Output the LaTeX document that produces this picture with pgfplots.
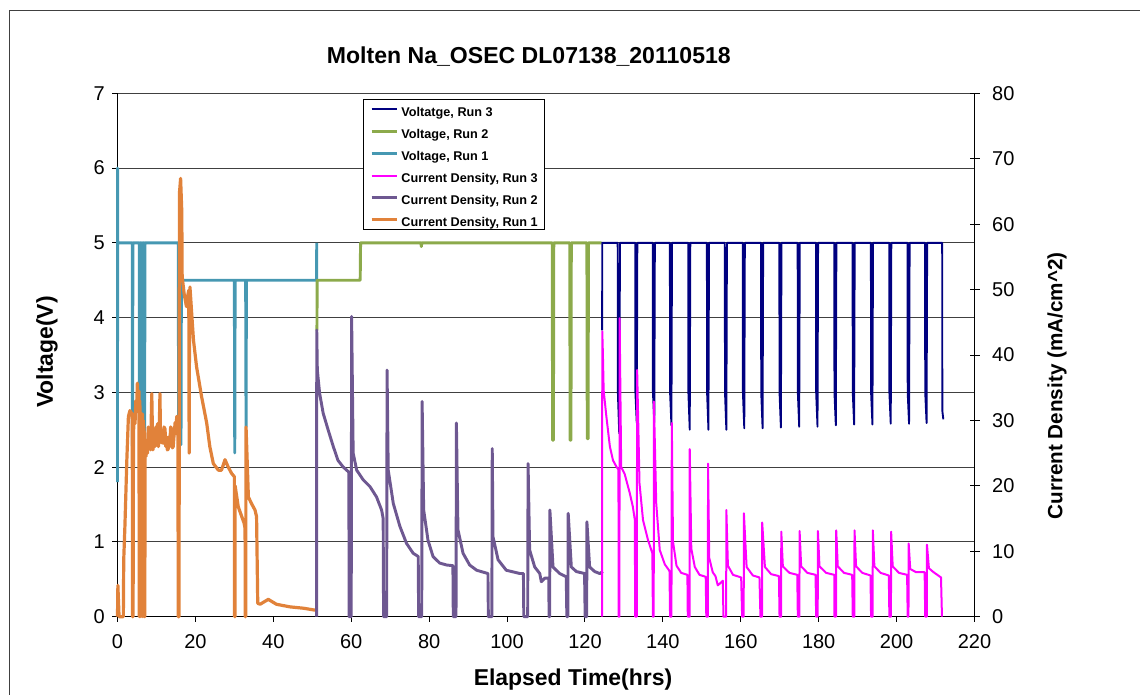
\documentclass[border=0pt]{standalone}
\usepackage{pgfplots}
\pgfplotsset{compat=1.18}
\usepackage{fontspec}
\setmainfont{Liberation Sans}
\definecolor{vthree}{RGB}{0,0,128}
\definecolor{vtwo}{RGB}{140,170,75}
\definecolor{vone}{RGB}{70,152,178}
\definecolor{cthree}{RGB}{255,0,255}
\definecolor{ctwo}{RGB}{110,88,145}
\definecolor{cone}{RGB}{225,130,58}
\begin{document}
\begin{tikzpicture}
\useasboundingbox (-88.125pt,-57.975pt) rectangle (766.875pt,462.525pt);
\draw[black!75, line width=0.75pt] (-81.15pt,-80pt) rectangle (790pt,454.5pt);
\begin{axis}[
  at={(0pt,0pt)}, anchor=south west,
  scale only axis, width=642.75pt, height=392.55pt,
  xmin=0, xmax=220, ymin=0, ymax=7,
  clip=false,
  axis x line*=bottom, axis y line*=left,
  xtick={0,20,...,220}, ytick={0,1,...,7},
  ymajorgrids, grid style={black!75, line width=0.75pt},
  axis line style={black, line width=0.75pt},
  tick style={black, line width=0.75pt},
  major tick length=3.75pt, tick align=outside,
  /pgf/number format/assume math mode=true,
  ticklabel style={font=\fontsize{15}{18}\selectfont},
  xticklabel style={yshift=-6pt},
  yticklabel style={xshift=-2.25pt},
  xlabel={Elapsed Time(hrs)}, ylabel={Voltage(V)},
  xlabel style={at={(axis description cs:0.5315,-0.121)}, anchor=center, font=\bfseries\fontsize{17.2}{20}\selectfont},
  ylabel style={at={(axis description cs:-0.0823,0.5057)}, anchor=center, rotate=0, font=\bfseries\fontsize{17.2}{20}\selectfont},
  title={Molten Na\_OSEC DL07138\_20110518},
  title style={at={(axis description cs:0.480,1.054)}, anchor=center, font=\bfseries\fontsize{17.3}{20}\selectfont},
]
% Voltage, Run 1
\addplot[vone, line width=2.2pt, line join=round] coordinates {
(0,1.8)(0.02,6.0)(0.06,5.0)(3.8,5.0)(3.85,1.8)(3.95,5.0)
(5.6,5.0)(5.65,2.1)(5.75,5.0)(6.0,5.0)(6.05,2.1)(6.15,5.0)
(6.45,5.0)(6.5,2.1)(6.6,5.0)(6.9,5.0)(6.95,2.1)(7.05,5.0)
(15.6,5.0)(15.7,2.3)(16.3,2.3)(16.4,4.5)
(30.0,4.5)(30.1,2.19)(30.2,4.5)(32.9,4.5)(33.0,2.54)(33.1,4.5)
(51.1,4.5)(51.15,5.0)
};
% Voltage, Run 2
\addplot[vtwo, line width=2.2pt, line join=round] coordinates {
(51.2,3.83)(51.25,4.5)(62.3,4.5)(62.4,5.0)(77.9,5.0)(78.0,4.95)(78.1,5.0)
(111.6,5.0)(111.7,2.36)(111.9,2.36)(112.0,5.0)
(116.1,5.0)(116.2,2.36)(116.4,2.36)(116.5,5.0)
(120.5,5.0)(120.6,2.38)(120.8,2.38)(120.9,5.0)(124.3,5.0)
};
% Voltatge, Run 3
\addplot[vthree, line width=1.4pt, line join=round] coordinates {
(124.4,3.83)(124.45,5)
(128.4,5)(128.45,3.0)(128.8,2.45)(129.0,5)
(132.9,5)(132.95,3.0)(133.3,2.59)(133.45,5)
(137.4,5)(137.45,3.0)(137.8,2.60)(137.95,5)
(141.8,5)(141.85,3.0)(142.2,2.56)(142.35,5)
(146.5,5)(146.55,3.0)(146.9,2.50)(147.05,5)
(151.3,5)(151.35,3.0)(151.7,2.50)(151.85,5)
(155.9,5)(155.95,3.0)(156.3,2.50)(156.45,5)
(160.5,5)(160.55,3.0)(160.9,2.52)(161.05,5)
(165.2,5)(165.25,3.0)(165.6,2.52)(165.75,5)
(169.9,5)(169.95,3.0)(170.3,2.53)(170.45,5)
(174.6,5)(174.65,3.0)(175.0,2.54)(175.15,5)
(179.3,5)(179.35,3.0)(179.7,2.54)(179.85,5)
(184.0,5)(184.05,3.0)(184.4,2.56)(184.55,5)
(188.7,5)(188.75,3.0)(189.1,2.57)(189.25,5)
(193.4,5)(193.45,3.0)(193.8,2.57)(193.95,5)
(198.1,5)(198.15,3.0)(198.5,2.58)(198.65,5)
(202.8,5)(202.85,3.0)(203.2,2.58)(203.35,5)
(207.3,5)(207.35,3.0)(207.7,2.59)(207.85,5)
(211.7,5)(211.75,2.75)(212.0,2.64)
};
\end{axis}
\begin{axis}[
  at={(0pt,0pt)}, anchor=south west,
  scale only axis, width=642.75pt, height=392.55pt,
  xmin=0, xmax=220, ymin=0, ymax=80,
  clip=false,
  axis x line=none, axis y line*=right,
  ytick={0,10,...,80},
  axis line style={black, line width=0.75pt},
  tick style={black, line width=0.75pt},
  major tick length=7.5pt, tick align=center,
  /pgf/number format/assume math mode=true,
  ticklabel style={font=\fontsize{15}{18}\selectfont},
  yticklabel style={xshift=6pt},
  ylabel={Current Density (mA/cm\textasciicircum 2)},
  ylabel style={at={(axis description cs:1.0963,0.4408)}, anchor=center, rotate=0, font=\bfseries\fontsize{15.5}{19}\selectfont},
  legend style={at={(0.2865,0.989)}, anchor=north west, draw=black, line width=0.75pt, fill=white,
    font=\bfseries\fontsize{9.5}{11}\selectfont, inner xsep=5pt, inner ysep=2.1pt,
    nodes={inner sep=0pt, text height=10.3pt, text depth=0pt}, row sep=6.3pt, column sep=2.5pt},
  legend cell align=left,
  legend image code/.code={\draw[#1] (0pt,0pt) -- (18.75pt,0pt);},
]
\addlegendimage{vthree, line width=1.5pt}
\addlegendentry{Voltatge, Run 3}
\addlegendimage{vtwo, line width=2.2pt}
\addlegendentry{Voltage, Run 2}
\addlegendimage{vone, line width=2.2pt}
\addlegendentry{Voltage, Run 1}
\addlegendimage{cthree, line width=1.5pt}
\addlegendentry{Current Density, Run 3}
\addlegendimage{ctwo, line width=2.2pt}
\addlegendentry{Current Density, Run 2}
\addlegendimage{cone, line width=2.2pt}
\addlegendentry{Current Density, Run 1}
% Current Density, Run 1
\addplot[cone, line width=2.4pt, line join=round, forget plot] coordinates {
(0,0)(0.1,4.8)(0.4,0)(1.5,0)(1.6,8.7)(1.9,13.8)(2.4,24)(2.8,30.6)(3.2,31.5)(3.6,31.1)(3.8,30)(3.85,0)(4.0,0)
(4.1,28)(4.3,31)(4.5,29.5)(4.7,33)(4.9,31.5)(5.1,35.7)(5.3,33)(5.5,34.5)(5.6,0)(5.7,33)(5.9,30)(6.0,0)(6.1,29)(6.4,31)(6.5,0)(6.6,30)(6.9,28)(7.0,0)
(7.1,26.5)(7.3,24.5)(7.5,27)(7.7,25)(7.9,29)(8.1,26)(8.3,27.5)(8.5,25.5)(8.8,34.1)(9.0,27)(9.1,25.5)(9.35,27.5)
(9.6,26)(9.85,29)(10.1,27)(10.3,29.5)(10.5,26)(10.7,28)(10.9,34.1)(11.05,27)(11.2,26.6)(11.45,28.5)(11.7,26.5)
(11.95,29)(12.2,28.7)(12.4,26)(12.6,27.5)(12.8,25.5)(13.0,25.6)(13.2,27.5)(13.4,26)(13.65,29)(13.9,28.7)
(14.1,25.8)(14.3,26)(14.55,28)(14.8,29.7)(15.0,28)(15.2,30.6)(15.5,30.2)(15.6,0)(15.8,0)
(15.9,64.7)(16.2,67)(16.5,62)(16.6,52)(17.1,49.4)(17.7,47.4)(18.0,49)(18.3,49.9)(18.4,25)(18.5,49)(18.6,50.4)
(19.5,42.3)(20.3,38.2)(21.6,33.6)(22.9,29.6)(23.7,26)(24.6,23.4)(25.9,22.4)(26.7,22.4)(27.6,24)(28.4,22.9)
(29.3,21.9)(30.0,21.4)(30.05,0)(30.15,0)(30.2,20)(31.0,16.8)(31.9,15.3)(32.5,14.3)(32.75,13.5)(32.8,0)(32.9,0)
(33.0,29)(33.6,18.3)(34.4,17.3)(35.3,16.3)(35.7,15.3)(36.0,2.05)(36.6,1.9)(38.7,2.65)(40.8,1.9)(44.3,1.5)
(47.7,1.3)(50.7,1.0)(51.2,1.1)
};
% Current Density, Run 2
\addplot[ctwo, line width=2.2pt, line join=round, forget plot] coordinates {
(51.1,0)(51.15,43.8)(51.3,37.7)(51.9,34.1)(52.8,31.1)(54.1,28.5)(55.4,26)(56.6,23.9)(57.9,22.9)(59.2,22.2)(59.4,22.0)
(59.45,0)(60.0,0)(60.1,45.9)(60.5,25)(61.4,22.4)(63.1,20.9)(64.8,19.9)(66.5,18.3)(67.8,16.3)(68.2,15.0)
(68.3,0)(69.1,0)(69.2,37.7)(69.5,22.4)(70.8,17.3)(72.5,13.8)(74.2,11.2)(75.9,9.7)(77.2,9.2)
(77.3,0)(78.1,0)(78.2,32.9)(78.6,16.3)(79.7,11.7)(81.0,9.2)(82.7,8.2)(84.5,7.9)(86.1,7.8)
(86.2,0)(86.9,0)(87.0,29.6)(87.4,13.3)(88.7,9.7)(90.4,7.9)(92.2,7.1)(95.1,6.6)
(95.2,0)(96.1,0)(96.2,25.7)(96.4,12.2)(97.7,8.7)(99.8,7.1)(103.3,6.6)(104.2,6.6)
(104.3,0)(105.3,0)(105.4,23.4)(105.8,10.2)(107.1,7.6)(108.4,6.6)(108.8,5.35)(109.7,5.9)(110.7,5.9)
(110.8,0)(110.95,0)(111.0,16.3)(111.8,7.6)(113.5,6.6)(115.2,6.1)
(115.35,0)(115.6,0)(115.7,15.8)(116.5,7.6)(117.8,6.9)(119.9,6.6)
(120.05,0)(120.45,0)(120.5,14.5)(121.2,7.6)(122.5,6.9)(123.8,6.6)(124.6,6.9)
};
% Current Density, Run 3
\addplot[cthree, line width=1.5pt, line join=round, forget plot] coordinates {
(124.4,0)(124.45,43.6)(124.6,40.3)(124.8,34.6)(125.5,30.6)(126.4,26)(127.2,23.9)(128.1,22.9)(128.6,22.5)
(128.65,0)(128.85,0)(128.9,45.6)(129.3,22.9)(130.2,21.8)(131.5,18.9)(132.3,16.8)(132.8,14.8)
(132.9,0)(133.3,0)(133.4,37.7)(134.0,20.4)(134.9,14.8)(136.2,11.7)(137.3,9.7)
(137.45,0)(137.65,0)(137.7,32.9)(138.3,17.3)(139.2,10.2)(140.5,8.0)(141.7,7.0)
(141.85,0)(142.2,0)(142.3,29.6)(142.6,11.5)(143.5,7.8)(144.7,6.7)(146.3,6.4)
(146.4,0)(146.85,0)(146.9,25.6)(147.3,10.4)(148.2,7.6)(149.4,6.4)(151.0,6.1)
(151.15,0)(151.55,0)(151.6,23.4)(151.9,9.0)(152.8,6.8)(153.5,6.2)(154.1,4.8)(154.5,5.0)(155.4,5.5)
(155.55,0)(156.25,0)(156.3,16.3)(156.7,7.8)(158.0,6.4)(160.1,6.0)
(160.35,0)(160.75,0)(160.8,15.8)(161.5,7.6)(163.1,6.3)(164.8,6.0)
(165.05,0)(165.45,0)(165.5,14.4)(166.2,7.6)(167.8,6.5)(169.8,6.2)
(169.95,0)(170.35,0)(170.4,13.0)(170.8,7.7)(172.5,6.7)(174.5,6.4)
(174.65,0)(175.05,0)(175.1,13.1)(175.5,7.7)(177.1,6.7)(179.2,6.4)
(179.35,0)(179.75,0)(179.8,13.1)(180.2,7.7)(181.9,6.7)(184.0,6.4)
(184.05,0)(184.45,0)(184.5,13.2)(184.9,7.7)(186.5,6.7)(188.6,6.4)
(188.75,0)(189.15,0)(189.2,13.2)(189.6,7.7)(191.2,6.7)(193.3,6.3)
(193.45,0)(193.85,0)(193.9,13.2)(194.3,7.7)(195.9,6.7)(198.0,6.3)
(198.15,0)(198.55,0)(198.6,13.0)(199.0,7.7)(200.6,6.7)(202.7,6.4)
(202.85,0)(203.05,0)(203.1,11.2)(203.5,7.3)(205.0,6.8)(207.2,6.8)
(207.35,0)(207.75,0)(207.8,11.0)(208.3,7.4)(209.5,6.8)(211.4,6.0)(211.65,0)
};
\end{axis}
\end{tikzpicture}
\end{document}
